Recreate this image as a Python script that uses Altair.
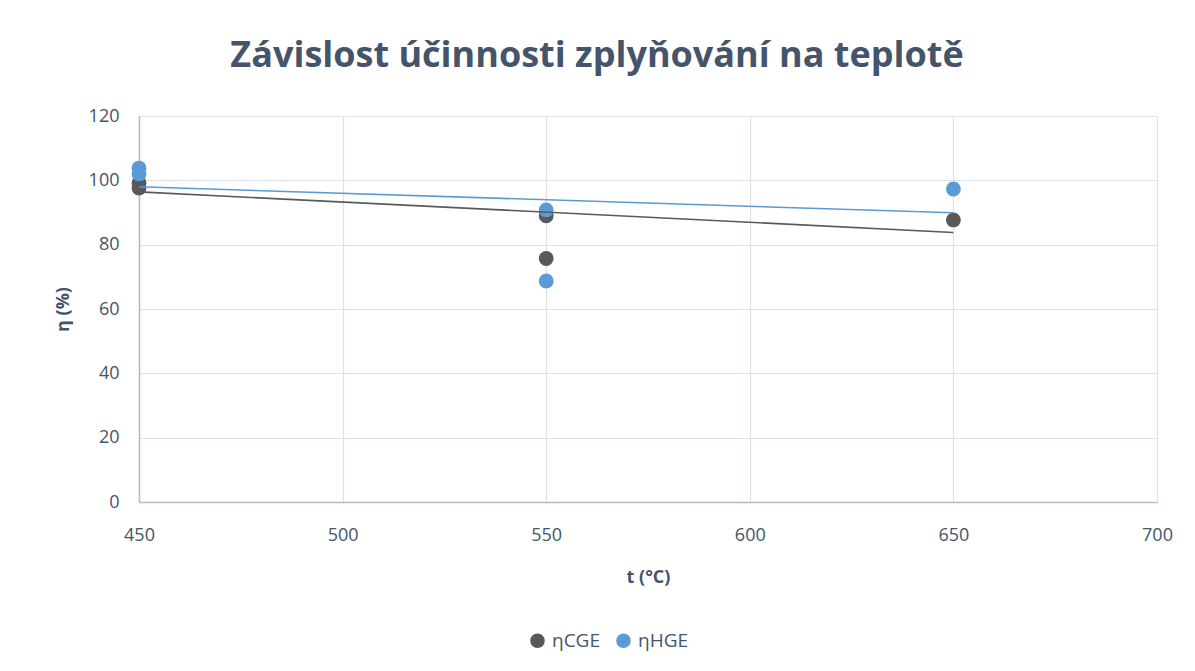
import altair as alt
import pandas as pd

# --- data ---
series_names = ["ηCGE", "ηHGE"]
t_cge = [450, 450, 550, 550, 650]
eta_cge = [99.2, 97.6, 89.0, 75.7, 87.7]
t_hge = [450, 450, 550, 550, 650]
eta_hge = [103.8, 102.0, 90.8, 68.7, 97.3]
trend_t = [450, 650]
trend_cge = [96.4, 83.8]
trend_hge = [98.0, 89.9]
x_ticks = [450, 500, 550, 600, 650, 700]
y_ticks = [0, 20, 40, 60, 80, 100, 120]

colors = ["#595959", "#5B9BD5"]
FONT = "Open Sans"
TXT = "#44546A"

pts = pd.DataFrame(
    {"series": [series_names[0]] * len(t_cge) + [series_names[1]] * len(t_hge),
     "t": t_cge + t_hge,
     "eta": eta_cge + eta_hge}
)
trend = pd.DataFrame(
    {"series": [series_names[0]] * 2 + [series_names[1]] * 2,
     "t": trend_t + trend_t,
     "eta": trend_cge + trend_hge}
)

axis_style = dict(labelFont=FONT, labelFontSize=18, labelColor=TXT,
                  titleFont=FONT, titleFontSize=18, titleColor=TXT, titleFontWeight="bold",
                  gridColor="#DDE2EA", gridWidth=1.2, domainColor="#B0BACB",
                  domainWidth=1.5, ticks=False, grid=True)

xenc = alt.X("t:Q", scale=alt.Scale(domain=[450, 700], nice=False),
             axis=alt.Axis(values=x_ticks, title="t (°C)", labelPadding=24,
                           labelFlush=False, titlePadding=24, **axis_style))
yenc = alt.Y("eta:Q", scale=alt.Scale(domain=[0, 120], nice=False),
             axis=alt.Axis(values=y_ticks, title="η (%)", labelPadding=20,
                           labelFlush=False, titlePadding=16, **axis_style))
cenc = alt.Color("series:N", scale=alt.Scale(domain=series_names, range=colors),
                 legend=alt.Legend(title=None, orient="none", direction="horizontal",
                                   legendX=389, legendY=515, symbolType="circle",
                                   symbolSize=170, symbolOpacity=1,
                                   labelFontSize=19, labelColor=TXT, labelFont=FONT,
                                   columnPadding=13, labelOffset=5))

points = alt.Chart(pts).mark_circle(size=220, opacity=1).encode(
    x=xenc, y=yenc, color=cenc, order=alt.Order("series:N")
)
lines = alt.Chart(trend).mark_line(strokeWidth=1.6).encode(
    x="t:Q", y="eta:Q", color=alt.Color("series:N", legend=None), detail="series:N"
)

chart = alt.layer(points, lines).properties(
    width=1018, height=386,
    background="white",
    title=alt.TitleParams("Závislost účinnosti zplyňování na teplotě",
                          fontSize=36, font=FONT, fontWeight="bold", color=TXT,
                          anchor="middle", dx=-51, offset=32),
    autosize=alt.AutoSizeParams(type="none"),
    padding={"left": 131, "top": 108, "right": 22, "bottom": 164},
).configure_view(stroke=None)

chart.save("out.html", embed_options={"renderer": "svg", "actions": False})
